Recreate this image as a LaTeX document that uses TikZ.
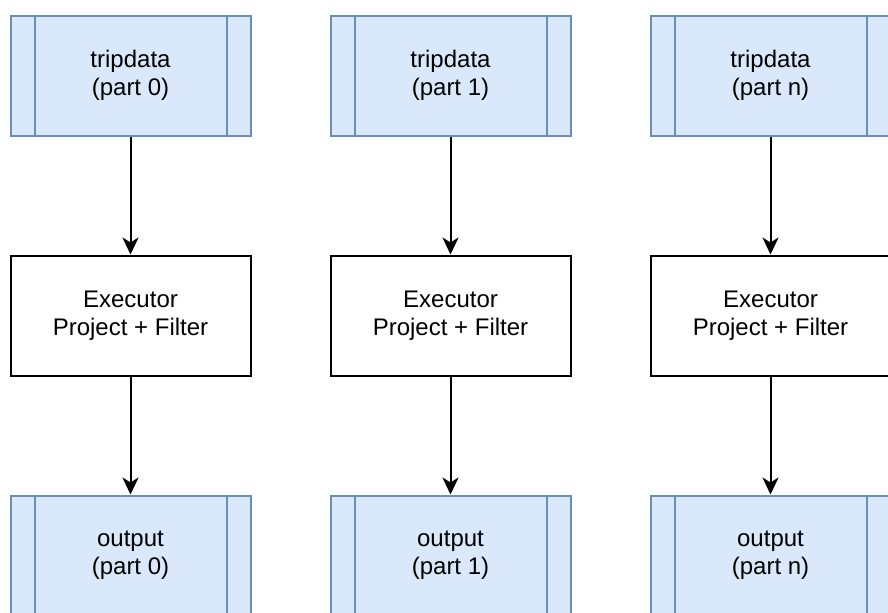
\documentclass[tikz,border=0pt]{standalone}
\usepackage{fontspec}
\setmainfont{Liberation Sans}
\usetikzlibrary{positioning,arrows.meta}
\definecolor{khoinen}{HTML}{DAE8FC}
\definecolor{khoivien}{HTML}{6C8EBF}
\begin{document}
\begin{tikzpicture}[x=0.5pt,y=-0.5pt,>={Stealth[length=8.5pt,width=8pt,inset=2.5pt]},
  dulieu/.style={draw=khoivien,fill=khoinen,line width=1pt,minimum width=120pt,minimum height=60pt,align=center,font=\fontsize{12}{14}\selectfont,inner sep=0pt},
  xuly/.style={draw=black,fill=white,line width=1pt,minimum width=120pt,minimum height=60pt,align=center,font=\fontsize{12}{14}\selectfont,inner sep=0pt},
  node distance=59pt]
\useasboundingbox (0,0) rectangle (888,612);
\foreach \i/\p in {0/0,1/1,2/n}{
  \node[dulieu] (vao\i) at (130.5+320*\i,75.5) {tripdata\\(part \p)};
  \node[xuly,below=of vao\i] (xl\i) {Executor\\Project + Filter};
  \node[dulieu,below=of xl\i] (ra\i) {output\\(part \p)};
  % hai vạch dọc của khối dữ liệu
  \foreach \k in {vao,ra}
    \draw[khoivien,line width=1pt] ([xshift=12.5pt]\k\i.north west) -- ([xshift=12.5pt]\k\i.south west) ([xshift=-12.5pt]\k\i.north east) -- ([xshift=-12.5pt]\k\i.south east);
  \draw[->,line width=1pt] (vao\i) -- (xl\i);
  \draw[->,line width=1pt] (xl\i) -- (ra\i);
}
\end{tikzpicture}
\end{document}
